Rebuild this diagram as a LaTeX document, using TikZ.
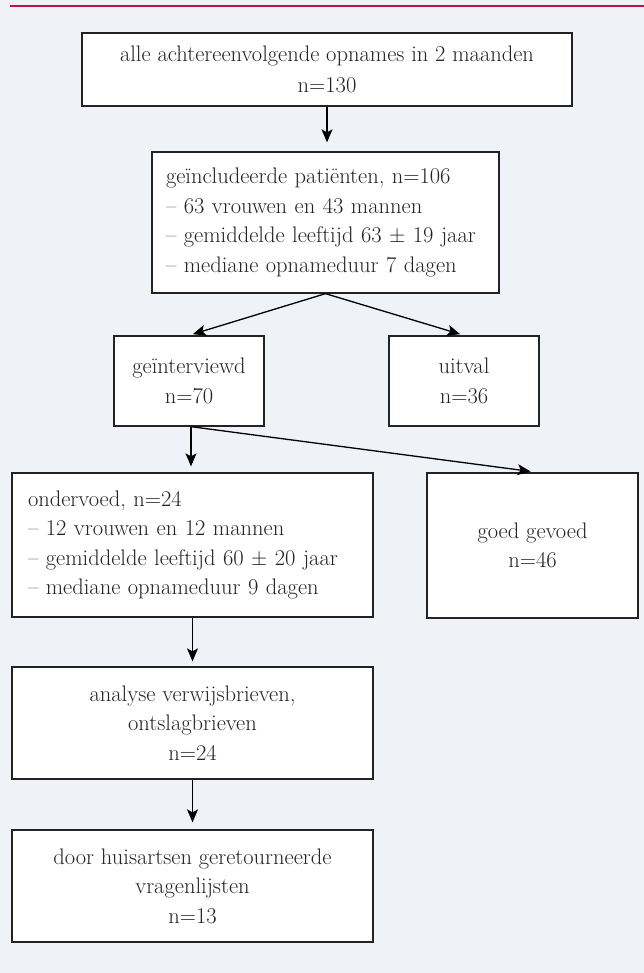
\documentclass[tikz,border=0pt]{standalone}
\usepackage{xcolor}
\usepackage{tikz}
\usetikzlibrary{arrows.meta, positioning, calc}
\definecolor{myred}{RGB}{200,16,72}
\definecolor{mydark}{RGB}{35,35,35}
\definecolor{mybg}{RGB}{239,243,247}
\newcommand{\flowfont}{\fontsize{22.5}{29.5}\selectfont}
\tikzset{
  block/.style={rectangle, draw=mydark, fill=white, line width=1.3pt,
    align=center, inner sep=0pt, font=\flowfont, text=mydark},
  listblock/.style={block, align=left, inner ysep=0pt},
  arrow/.style={-{Stealth[length=13pt, width=11pt, inset=3pt]},
    line width=1.3pt, color=black},
  topline/.style={line width=2pt, color=myred}
}

\begin{document}
\begin{tikzpicture}[x=1pt, y=-1pt]
  % background and red rule
  \fill[mybg] (0,0) rectangle (644,973);
  \useasboundingbox (0,0) rectangle (644,973);
  \coordinate (ruleL) at (10,6);
  \coordinate (ruleR) at (644,6);
  \draw[topline] (ruleL) -- (ruleR);

  % boxes
  \node[block, minimum width=490, minimum height=73] (opnames) at (327,69.5)
    {alle achtereenvolgende opnames in 2 maanden\\[2pt] n=130};
  \node[listblock, inner xsep=14, text width=319, minimum height=141] (incl) at (325.5,222.5)
    {geïncludeerde patiënten, n=106\\
     – 63 vrouwen en 43 mannen\\
     – gemiddelde leeftijd 63 $\pm$ 19 jaar\\
     – mediane opnameduur 7 dagen};
  \node[block, minimum width=150, minimum height=90] (geint) at (189,381)
    {geïnterviewd\\ n=70};
  \node[block, minimum width=150, minimum height=90] (uitval) at (464,381)
    {uitval\\ n=36};
  \node[listblock, inner xsep=16, text width=329, minimum height=144] (onder) at (192.5,545)
    {ondervoed, n=24\\
     – 12 vrouwen en 12 mannen\\
     – gemiddelde leeftijd 60 $\pm$ 20 jaar\\
     – mediane opnameduur 9 dagen};
  \node[block, minimum width=211, minimum height=145] (goed) at (532.5,545.5)
    {goed gevoed\\ n=46};
  \node[block, minimum width=361, minimum height=112] (analyse) at (192.5,723)
    {analyse verwijsbrieven,\\ ontslagbrieven\\ n=24};
  \node[block, minimum width=361, minimum height=112] (huisarts) at (192.5,886)
    {door huisartsen geretourneerde\\ vragenlijsten\\ n=13};

  % connectors
  \draw[arrow, shorten >=9] (opnames.south) -- (opnames.south |- incl.north);
  \draw[arrow, shorten >=4] (incl.south) -- (geint.north);
  \draw[arrow, shorten >=4] (incl.south) -- (uitval.north);
  \draw[arrow, shorten >=6] ([xshift=2]geint.south) -- ([xshift=2]geint.south |- onder.north);
  \draw[arrow, shorten >=7] ([xshift=2]geint.south) -- ([xshift=5]goed.north);
  \draw[arrow, shorten >=5] (onder.south) -- (analyse.north);
  \draw[arrow, shorten >=7] (analyse.south) -- (huisarts.north);
\end{tikzpicture}
\end{document}
